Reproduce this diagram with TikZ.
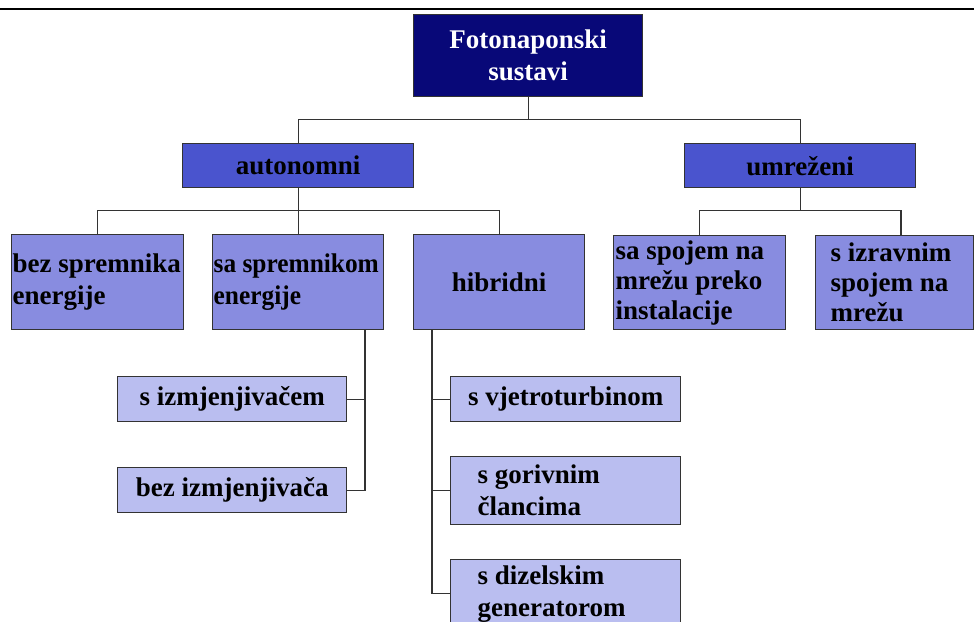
\documentclass[tikz,border=0pt]{standalone}
\usepackage{fontspec}
\setmainfont{Liberation Serif}
\newfontfamily\narrowfont{Liberation Serif}[FakeStretch=0.94]
\usepackage{xcolor}
\usepackage{tikz}
\definecolor{fsnavy}{RGB}{8,8,120}
\definecolor{fsblue}{RGB}{74,84,206}
\definecolor{fslight}{RGB}{136,140,224}
\definecolor{fspale}{RGB}{186,190,240}
\hyphenpenalty=10000
\exhyphenpenalty=10000

\begin{document}
\begin{tikzpicture}[x=1pt,y=-1pt,
		box/.style={draw=black!80, line width=1.3pt, anchor=north west, inner sep=0pt,
			font=\fontsize{27}{32}\selectfont\bfseries},
		lvla/.style={box, fill=fsnavy, text=white},
		lvlb/.style={box, fill=fsblue},
		lvlc/.style={box, fill=fslight},
		lvld/.style={box, fill=fspale},
		conn/.style={draw=black!80, line width=1.3pt}]
	\useasboundingbox (0,0) rectangle (974,621);
	\clip (0,0) rectangle (974,621);
	\draw[line width=2pt] (0,9) -- (974,9);
	
	\node[lvla, minimum width=229pt, minimum height=82pt, align=center] (fs) at (413,14) {Fotonaponski\\sustavi};
	\node[lvlb, minimum width=231pt, minimum height=44pt] (auto) at (182,143) {autonomni};
	\node[lvlb, minimum width=231pt, minimum height=44pt] (umr) at (684,143) {umreženi};
	
	\node[lvlc, text width=170pt, inner xsep=1pt, minimum height=95pt, align=flush left] (bez) at (11,234) {\mbox{bez spremnika}\\energije};
	\node[lvlc, text width=169pt, inner xsep=1pt, minimum height=95pt, align=flush left,
		font=\fontsize{27}{32}\selectfont\narrowfont\bfseries] (sa) at (212,234) {\mbox{sa spremnikom}\\energije};
	\node[lvlc, minimum width=171pt, minimum height=95pt] (hib) at (413,234) {hibridni};
	\node[lvlc, text width=168pt, inner xsep=2pt, minimum height=94pt, align=flush left,
		font=\fontsize{27}{30}\selectfont\bfseries] (spoj) at (613,235) {\mbox{sa spojem na}\\mrežu preko\\instalacije};
	\node[lvlc, text width=128pt, inner xsep=15pt, minimum height=94pt, align=flush left,
		font=\fontsize{27}{30}\selectfont\bfseries] (izr) at (815,235) {s izravnim\\spojem na\\mrežu};
	
	\node[lvld, minimum width=229pt, minimum height=45pt] (izm) at (117,376) {s izmjenjivačem};
	\node[lvld, minimum width=229pt, minimum height=45pt] (bizm) at (117,467) {bez izmjenjivača};
	\node[lvld, minimum width=230pt, minimum height=45pt] (vje) at (450,376) {s vjetroturbinom};
	\node[lvld, text width=176pt, inner xsep=27pt, minimum height=68pt, align=flush left] (gor) at (450,456) {s gorivnim\\člancima};
	\node[lvld, text width=176pt, inner xsep=27pt, minimum height=68pt, align=flush left] (diz) at (450,559) {s dizelskim\\generatorom};
	
	% spojnice
	\draw[conn] (fs.south) -- ++(0,22) coordinate (j0);
	\draw[conn] (auto.north) |- (j0) -| (umr.north);
	\draw[conn] (auto.south) -- ++(0,22) coordinate (j1);
	\draw[conn] (bez.north) |- (j1) -| (hib.north);
	\draw[conn] (j1) -- (j1 |- sa.north);
	\coordinate (izrin) at (901,235);
	\draw[conn] (umr.south) -- ++(0,22) coordinate (j2);
	\draw[conn] (spoj.north) |- (j2) -| (izrin);
	
	\coordinate (k1) at (365,0);
	\draw[conn] (k1 |- sa.south) -- (k1 |- bizm.east) -- (bizm.east);
	\draw[conn] (izm.east) -- (izm.east -| k1);
	\coordinate (k2) at (432,0);
	\draw[conn] (k2 |- hib.south) -- (k2 |- diz.west) -- (diz.west);
	\draw[conn] (vje.west) -- (vje.west -| k2);
	\draw[conn] (gor.west) -- (gor.west -| k2);
\end{tikzpicture}
\end{document}
